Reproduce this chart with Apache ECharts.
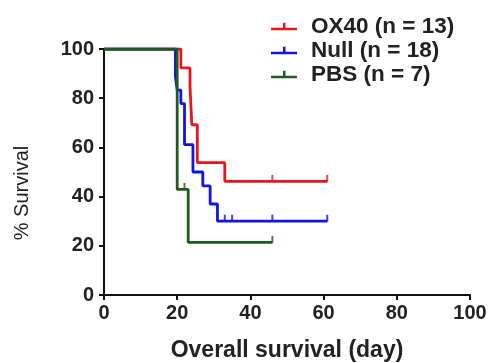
<!DOCTYPE html>
<html>
<head>
<meta charset="utf-8">
<script src="https://cdn.jsdelivr.net/npm/echarts@6/dist/echarts.min.js"></script>
<style>
  html, body { margin: 0; padding: 0; background: #fff; }
  #chart { width: 491px; height: 363px; }
</style>
</head>
<body>
<div id="chart"></div>
<script>
// 生存曲线数据 (天, 生存率%)
const groupNames = ['OX40 (n = 13)', 'Null (n = 18)', 'PBS (n = 7)'];
const groupColors = ['#e8161c', '#1414e0', '#1f5a1f'];

const ox40Days = [0, 21, 23.5, 24, 25.5, 33, 61];
const ox40Surv = [100, 92.3, 84.6, 69.2, 53.8, 46.2, 46.2];
const ox40CensorDays = [46, 61];
const ox40CensorSurv = [46.2, 46.2];

const nullDays = [0, 19.5, 20, 21, 22, 24.3, 27, 29, 31, 61];
const nullSurv = [100, 88.9, 83.3, 77.8, 61.1, 50, 44.4, 37, 30, 30];
const nullCensorDays = [33, 35, 46, 61];
const nullCensorSurv = [30, 30, 30, 30];

const pbsDays = [0, 20, 23, 46];
const pbsSurv = [100, 42.9, 21.4, 21.4];
const pbsCensorDays = [22, 46];
const pbsCensorSurv = [42.9, 21.4];

const xTicks = [0, 20, 40, 60, 80, 100];
const yTicks = [0, 20, 40, 60, 80, 100];

const zip = (xs, ys) => xs.map((x, i) => [x, ys[i]]);

const curves = [
  [ox40Days, ox40Surv, ox40CensorDays, ox40CensorSurv],
  [nullDays, nullSurv, nullCensorDays, nullCensorSurv],
  [pbsDays, pbsSurv, pbsCensorDays, pbsCensorSurv],
];

const series = [];
curves.forEach((c, i) => {
  series.push({
    name: groupNames[i],
    type: 'line',
    step: 'end',
    showSymbol: false,
    data: zip(c[0], c[1]),
    itemStyle: { color: groupColors[i] },
    lineStyle: { color: groupColors[i], width: 2.8 },
    z: 2 + i,
  });
  // 删失标记
  series.push({
    name: groupNames[i] + ' censored',
    type: 'scatter',
    data: zip(c[2], c[3]),
    symbol: 'rect',
    symbolSize: [2, 7],
    symbolOffset: [0, -3],
    itemStyle: { color: groupColors[i] },
    z: 2 + i,
  });
});

const chart = echarts.init(document.getElementById('chart'));
chart.setOption({
  animation: false,
  backgroundColor: '#fff',
  textStyle: { fontFamily: 'Liberation Sans, Arial, sans-serif' },
  legend: {
    data: groupNames,
    orient: 'vertical',
    left: 266,
    top: 10,
    itemWidth: 26,
    itemHeight: 10,
    itemGap: 1,
    icon: 'path://M0,6H26V8.5H0Z M12,1H14.5V8.5H12Z',
    textStyle: { fontSize: 22.5, fontWeight: 'bold', color: '#222', lineHeight: 22.5, padding: [0, 0, 0, 9] },
  },
  grid: { left: 104, right: 21, top: 49, bottom: 68, outerBoundsMode: 'none' },
  xAxis: {
    type: 'value',
    min: 0,
    max: 100,
    interval: 20,
    name: 'Overall survival (day)',
    nameLocation: 'middle',
    nameGap: 44,
    nameTextStyle: { fontSize: 23, fontWeight: 'bold', color: '#222' },
    axisLine: { lineStyle: { color: '#111', width: 2 } },
    axisTick: { inside: false, length: 5, lineStyle: { color: '#111', width: 2 } },
    axisLabel: {
      fontSize: 20, fontWeight: 'bold', color: '#222', margin: 8,
      formatter: v => (xTicks.includes(v) ? String(v) : ''),
    },
    splitLine: { show: false },
  },
  yAxis: {
    type: 'value',
    min: 0,
    max: 100,
    interval: 20,
    name: '% Survival',
    nameLocation: 'middle',
    nameGap: 72,
    nameTextStyle: { fontSize: 20, color: '#222', padding: [0, 42, 0, 0] },
    axisLine: { show: true, lineStyle: { color: '#111', width: 2 } },
    axisTick: { show: true, inside: false, length: 5, lineStyle: { color: '#111', width: 2 } },
    axisLabel: {
      fontSize: 20, fontWeight: 'bold', color: '#222', margin: 10,
      formatter: v => (yTicks.includes(v) ? String(v) : ''),
    },
    splitLine: { show: false },
  },
  series: series,
});
</script>
</body>
</html>
